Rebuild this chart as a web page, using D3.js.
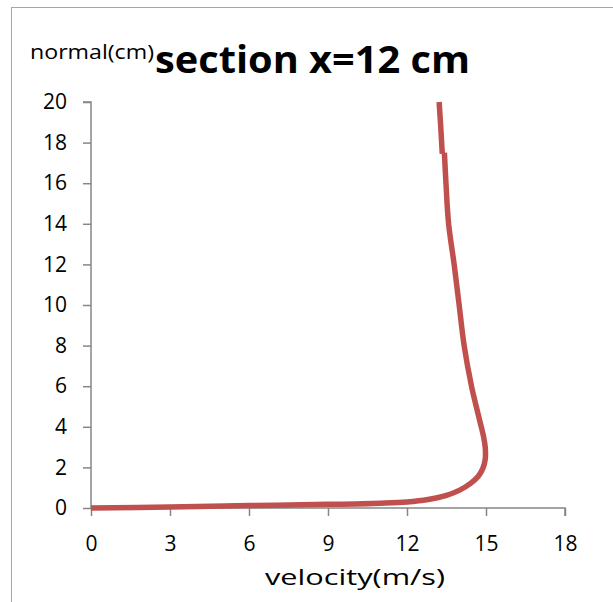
<!DOCTYPE html>
<html>
<head>
<meta charset="utf-8">
<script src="https://cdn.jsdelivr.net/npm/d3@7"></script>
<style>
  html, body { margin: 0; padding: 0; background: #fff; }
  svg { display: block; }
  text { font-family: "Open Sans", "Liberation Sans", sans-serif; fill: #000; }
</style>
</head>
<body>
<svg id="chart" width="613" height="602"></svg>
<script>
// Data (lower profile, then the short upper piece after the small step)
const velocityLower = [0, 3, 6, 9, 11, 12, 12.8, 13.5, 14.0, 14.4, 14.7, 14.88, 14.97, 14.97, 14.91, 14.82, 14.63, 14.45, 14.17, 13.98, 13.79, 13.58, 13.48, 13.42];
const normalLower   = [0, 0.05, 0.12, 0.18, 0.24, 0.3, 0.42, 0.62, 0.88, 1.2, 1.55, 1.95, 2.4, 3.0, 3.5, 4.0, 5.0, 6.0, 8.0, 10.0, 12.0, 14.0, 16.0, 17.5];
const velocityUpper = [13.34, 13.28, 13.22];
const normalUpper   = [17.45, 18.8, 20.0];
const xTicks = [0, 3, 6, 9, 12, 15, 18];
const yTicks = [0, 2, 4, 6, 8, 10, 12, 14, 16, 18, 20];
const titleText = "section x=12 cm";
const yTitle = "normal(cm)";
const xTitle = "velocity(m/s)";

const svg = d3.select("#chart");
const axisColor = "#868686";

// outer frame
svg.append("rect")
  .attr("x", 11.5).attr("y", 7.5)
  .attr("width", 640).attr("height", 640)
  .attr("fill", "none").attr("stroke", "#a6a6a6").attr("stroke-width", 1);

const x = d3.scaleLinear().domain([0, 18]).range([91, 565]);
const y = d3.scaleLinear().domain([0, 20]).range([508, 102]);

// y axis
const yAxis = svg.append("g").attr("transform", `translate(${x(0)},0)`)
  .call(d3.axisLeft(y).tickValues(yTicks).tickSize(8).tickPadding(16));
// x axis
const xAxis = svg.append("g").attr("transform", `translate(0,${y(0)})`)
  .call(d3.axisBottom(x).tickValues(xTicks).tickSize(8).tickPadding(20));

[yAxis, xAxis].forEach(g => {
  g.attr("font-size", null).attr("font-family", null);
  g.select(".domain").attr("stroke", axisColor).attr("stroke-width", 1.5);
  g.selectAll(".tick line").attr("stroke", axisColor).attr("stroke-width", 1.5);
  g.selectAll(".tick text").style("font-size", "21px").attr("fill", "#000")
    .style("font-family", '"Open Sans", sans-serif');
});
yAxis.selectAll(".domain").attr("d", `M-8,${y(20)}H0V${y(0)}`);
xAxis.selectAll(".domain").attr("d", `M${x(0)},0H${x(18)}V8`);

// line
const lower = velocityLower.map((v, i) => [v, normalLower[i]]);
const upper = velocityUpper.map((v, i) => [v, normalUpper[i]]);
const lineColor = "#C0504D";
svg.append("path")
  .datum(lower)
  .attr("fill", "none")
  .attr("stroke", lineColor)
  .attr("stroke-width", 5.5)
  .attr("stroke-linejoin", "round")
  .attr("d", d3.line().x(d => x(d[0])).y(d => y(d[1])).curve(d3.curveCatmullRom.alpha(0.5)));
svg.append("path")
  .datum(upper)
  .attr("fill", "none")
  .attr("stroke", lineColor)
  .attr("stroke-width", 5.5)
  .attr("d", d3.line().x(d => x(d[0])).y(d => y(d[1])));

// titles
svg.append("text")
  .attr("x", 155).attr("y", 73)
  .style("font-size", "37px").attr("font-weight", "bold")
  .attr("textLength", 315).attr("lengthAdjust", "spacingAndGlyphs")
  .text(titleText);

svg.append("text")
  .attr("x", 30).attr("y", 59)
  .style("font-size", "20px")
  .attr("textLength", 124).attr("lengthAdjust", "spacingAndGlyphs")
  .text(yTitle);

svg.append("text")
  .attr("x", 265).attr("y", 585)
  .style("font-size", "21px")
  .attr("textLength", 180).attr("lengthAdjust", "spacingAndGlyphs")
  .attr("fill", "#333")
  .text(xTitle);
</script>
</body>
</html>
